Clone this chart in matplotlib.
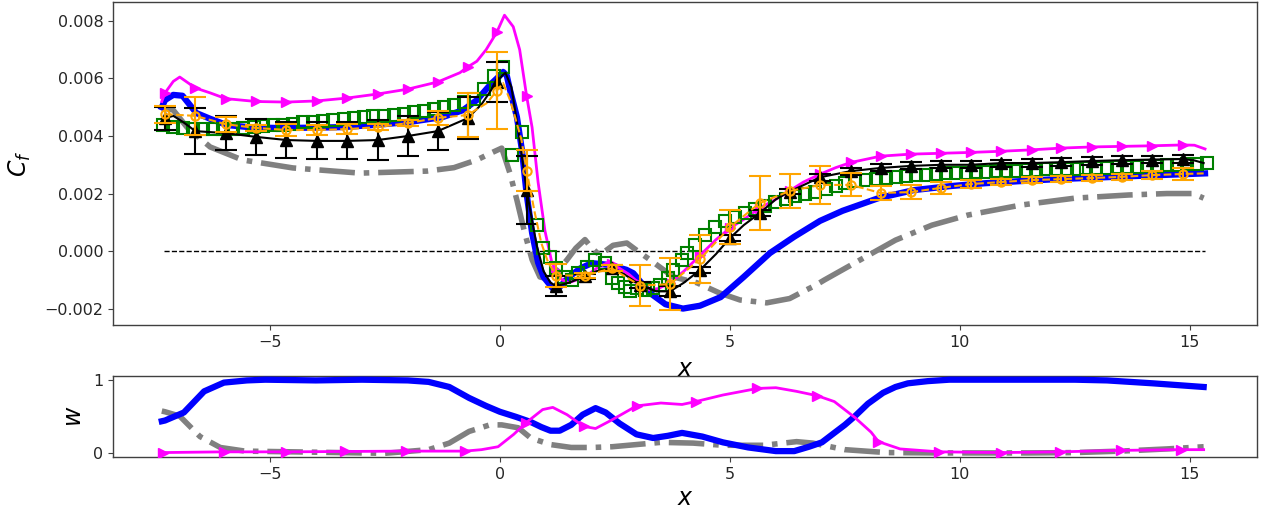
import numpy as np
import matplotlib
matplotlib.use("Agg")
import matplotlib.pyplot as plt

plt.rcParams['font.family'] = ['DejaVu Sans']
plt.rcParams['font.size'] = 11.5
plt.rcParams['axes.edgecolor'] = '0.25'
plt.rcParams['axes.linewidth'] = 1.0
plt.rcParams['xtick.color'] = '0.25'
plt.rcParams['ytick.color'] = '0.25'
plt.rcParams['xtick.labelcolor'] = '0.15'
plt.rcParams['ytick.labelcolor'] = '0.15'

# ---------------- top panel data (Cf) ----------------
grid_x = [-7.28, -6.62, -5.96, -5.30, -4.64, -3.98, -3.32, -2.66, -2.00, -1.35, -0.70, -0.07,
          0.58, 1.23, 1.85, 2.43, 3.05, 3.70, 4.35, 5.00, 5.65, 6.30, 6.97, 7.63, 8.28, 8.93,
          9.60, 10.24, 10.90, 11.57, 12.20, 12.87, 13.52, 14.17, 14.85]

blue_x = [-7.35, -7.28, -7.1, -6.9, -6.6, -6.3, -5.93, -5.4, -4.85, -4.0, -3.41, -2.6, -1.96, -1.24,
          -0.8, -0.5, -0.2, 0.0, 0.07, 0.15, 0.22, 0.3, 0.37, 0.48, 0.58, 0.7, 0.83, 0.95, 1.05, 1.15,
          1.3, 1.5, 1.75, 2.0, 2.2, 2.4, 2.6, 2.75, 2.9, 3.1, 3.3, 3.6, 3.98, 4.35, 4.8, 5.3, 5.87,
          6.4, 6.96, 7.45, 8.23, 9.0, 9.8, 10.56, 11.3, 12.1, 12.9, 13.67, 14.5, 15.0, 15.33]
blue_y = [0.0050, 0.00525, 0.00543, 0.0054, 0.0048, 0.0046, 0.00438, 0.0043, 0.00428, 0.00429,
          0.00431, 0.0044, 0.00449, 0.00466, 0.0049, 0.00525, 0.0058, 0.0061, 0.00623, 0.0061,
          0.0056, 0.0051, 0.00466, 0.0035, 0.0020, 0.00063, -0.0004, -0.0009, -0.0011, -0.0013,
          -0.00125, -0.0009, -0.0006, -0.00042, -0.00045, -0.00049, -0.00058, -0.00065, -0.00077,
          -0.00115, -0.0015, -0.00185, -0.0020, -0.0019, -0.0016, -0.0009, -0.00007, 0.0005,
          0.00105, 0.00140, 0.00184, 0.00212, 0.00226, 0.00236, 0.00243, 0.0025, 0.00255,
          0.0026, 0.00265, 0.00268, 0.0027]

magenta_x = [-7.35, -7.28, -7.1, -6.96, -6.62, -6.3, -5.96, -5.30, -4.64, -3.98, -3.32, -2.66,
             -2.00, -1.35, -0.87, -0.70, -0.5, -0.3, -0.07, 0.1, 0.29, 0.43, 0.58, 0.7, 0.83,
             0.98, 1.13, 1.23, 1.35, 1.5, 1.85, 2.1, 2.32, 2.43, 2.6, 2.8, 3.05, 3.25, 3.45, 3.70,
             4.0, 4.35, 4.7, 5.00, 5.3, 5.65, 6.0, 6.30, 6.6, 6.97, 7.3, 7.63, 8.28, 8.93, 9.60,
             10.24, 10.90, 11.57, 12.20, 12.87, 13.52, 14.17, 14.85, 15.1, 15.33]
magenta_y = [0.0052, 0.0055, 0.0059, 0.00605, 0.00567, 0.0055, 0.0053, 0.0052, 0.00518, 0.00522,
             0.00532, 0.00546, 0.00563, 0.00588, 0.0062, 0.0064, 0.0066, 0.0070, 0.0076, 0.0082,
             0.0078, 0.0070, 0.0054, 0.0043, 0.0024, 0.0007, -0.0004, -0.0007, -0.0010, -0.0011,
             -0.0009, -0.0006, -0.00042, -0.00045, -0.0006, -0.0008, -0.00115, -0.00135, -0.0013,
             -0.0011, -0.0007, -0.00015, 0.0004, 0.0008, 0.0011, 0.0015, 0.0018, 0.0021, 0.0024,
             0.00268, 0.0029, 0.00308, 0.0033, 0.00337, 0.0034, 0.00343, 0.00347, 0.00352,
             0.00358, 0.00362, 0.00364, 0.00366, 0.00369, 0.00368, 0.00355]

gray_x = [-7.35, -7.1, -6.8, -6.3, -5.6, -4.5, -3.04, -1.59, -1.0, -0.5, -0.15, 0.04, 0.22, 0.37,
          0.54, 0.7, 0.87, 1.0, 1.2, 1.46, 1.65, 1.85, 2.0, 2.17, 2.46, 2.76, 2.97, 3.26, 3.48,
          3.77, 4.28, 4.78, 5.22, 5.8, 6.3, 6.6, 6.85, 7.06, 7.84, 8.6, 9.39, 10.17, 11.33, 12.5,
          13.67, 14.5, 15.07, 15.3]
gray_y = [0.0050, 0.0049, 0.0043, 0.00362, 0.00317, 0.00289, 0.00271, 0.00278, 0.0029, 0.00317,
          0.00344, 0.00358, 0.0027, 0.00177, 0.00063, -0.0003, -0.0009, -0.00095, -0.0008,
          -0.0003, 0.0001, 0.0004, 0.0001, -0.00014, 0.0002, 0.00028, 0.00003, -0.0003, -0.00056,
          -0.0009, -0.0011, -0.00146, -0.0017, -0.0018, -0.00165, -0.0014, -0.0012, -0.0010,
          -0.0003, 0.00038, 0.0009, 0.00125, 0.0016, 0.00184, 0.00195, 0.0020, 0.0020, 0.00184]

green_x = [-7.33, -7.11, -6.89, -6.67, -6.46, -6.24, -6.02, -5.80, -5.58, -5.35, -5.15, -4.93,
           -4.71, -4.49, -4.27, -4.06, -3.84, -3.62, -3.40, -3.18, -2.96, -2.75, -2.53, -2.31,
           -2.09, -1.87, -1.65, -1.44, -1.22, -1.00, -0.78, -0.56, -0.34, -0.12, 0.07, 0.26,
           0.47, 0.80, 0.94, 1.09, 1.23, 1.40, 1.56, 1.70, 1.89, 2.07, 2.28, 2.43, 2.57, 2.72,
           2.83, 2.97, 3.15, 3.33, 3.48, 3.65, 3.77, 3.95, 4.06, 4.24, 4.46, 4.68, 4.90, 5.11,
           5.33, 5.55, 5.77, 5.99, 6.21, 6.42, 6.64, 6.86, 7.08, 7.30, 7.51, 7.73, 7.95, 8.17,
           8.39, 8.61, 8.82, 9.04, 9.26, 9.48, 9.70, 9.92, 10.13, 10.35, 10.57, 10.79, 11.01,
           11.23, 11.44, 11.66, 11.88, 12.10, 12.32, 12.54, 12.75, 12.97, 13.19, 13.41, 13.63,
           13.85, 14.06, 14.28, 14.50, 14.72, 14.94, 15.16, 15.37]
green_y = [0.00438, 0.00432, 0.00428, 0.00426, 0.00425, 0.00425, 0.00425, 0.00426, 0.00428,
           0.00431, 0.00434, 0.00437, 0.0044, 0.00443, 0.00447, 0.0045, 0.00453, 0.00456,
           0.00459, 0.00462, 0.00465, 0.00468, 0.00471, 0.00474, 0.00478, 0.00482, 0.00487,
           0.00493, 0.0050, 0.00508, 0.00518, 0.0053, 0.00565, 0.0061, 0.0064, 0.00334, 0.00415,
           0.0009, 0.0001, -0.0002, -0.0006, -0.0009, -0.0010, -0.00077, -0.00056, -0.0003,
           -0.00042, -0.00094, -0.0011, -0.00125, -0.0014, -0.0013, -0.00136, -0.0013, -0.00118,
           -0.00094, -0.00066, -0.0003, -0.00007, 0.0002, 0.00055, 0.00085, 0.00105, 0.0012,
           0.00134, 0.00146, 0.00158, 0.0017, 0.00182, 0.00192, 0.0020, 0.00207, 0.00216,
           0.00226, 0.00236, 0.00242, 0.00247, 0.00251, 0.00255, 0.00258, 0.00261, 0.00264,
           0.00266, 0.00268, 0.0027, 0.00272, 0.00273, 0.00274, 0.00275, 0.00277, 0.00278,
           0.0028, 0.00281, 0.00282, 0.00284, 0.00285, 0.00286, 0.00287, 0.00288, 0.00289,
           0.0029, 0.00291, 0.00292, 0.00293, 0.00295, 0.00296, 0.00298, 0.0030, 0.00302,
           0.00304, 0.00306]

black_x = [-7.35, -7.28, -7.1, -6.9, -6.62, -5.96, -5.30, -4.64, -3.98, -3.32, -2.66, -2.00, -1.35,
           -0.70, -0.4, -0.07, 0.05, 0.12, 0.25, 0.4, 0.58, 0.8, 0.95, 1.1, 1.23, 1.5, 1.85, 2.1,
           2.43, 2.7, 3.05, 3.4, 3.70, 4.0, 4.35, 4.7, 5.00, 5.3, 5.65, 6.0, 6.30, 6.97, 7.63,
           8.28, 8.93, 9.60, 10.24, 10.90, 11.57, 12.20, 12.87, 13.52, 14.17, 14.85, 15.1, 15.3]
black_y = [0.0046, 0.00462, 0.0047, 0.0045, 0.00417, 0.0041, 0.00397, 0.00386, 0.00383, 0.00383,
           0.00386, 0.0040, 0.00417, 0.00462, 0.0051, 0.00588, 0.0061, 0.0062, 0.0057, 0.0042,
           0.00212, 0.0002, -0.0007, -0.0011, -0.00122, -0.0011, -0.00088, -0.0007, -0.0006,
           -0.0008, -0.00118, -0.0014, -0.0014, -0.0011, -0.00066, -0.0001, 0.00045, 0.0009,
           0.00132, 0.0018, 0.00207, 0.00257, 0.00278, 0.00289, 0.00296, 0.0030, 0.0030,
           0.00306, 0.00306, 0.00309, 0.00313, 0.00316, 0.00318, 0.0032, 0.00315, 0.00306]
black_err = [0.0004, 0.0008, 0.0006, 0.00062, 0.00062, 0.00064, 0.00064, 0.0007, 0.0007, 0.00065,
             0.00073, 0.00071, 0.00117, 0.00035, 0.0001, 0.0001, 0.0001, 0.00017, 0.0001, 0.0001,
             0.0001, 0.0001, 0.00012, 0.00012, 0.00012, 0.00012, 0.00012, 0.00012, 0.00012,
             0.00013, 0.00013, 0.00013, 0.00013, 0.00013, 0.00013]

orange_x = [-7.28, -6.62, -5.96, -5.30, -4.64, -3.98, -3.32, -2.66, -2.00, -1.35, -0.70, -0.28,
            -0.07, 0.07, 0.22, 0.33, 0.47, 0.58, 0.76, 0.9, 1.05, 1.23, 1.85, 2.43, 3.05, 3.70,
            4.35, 5.00, 5.65, 6.30, 6.97, 7.63, 8.28, 8.93, 9.60, 10.24, 10.90, 11.57, 12.20,
            12.87, 13.52, 14.17, 14.85, 15.3]
orange_y = [0.00476, 0.0047, 0.00441, 0.00428, 0.00421, 0.00421, 0.00424, 0.00431, 0.00445,
            0.00463, 0.00473, 0.00515, 0.00557, 0.00584, 0.00525, 0.00466, 0.00386, 0.0028,
            0.00132, 0.00028, -0.0004, -0.00085, -0.00085, -0.0006, -0.0012, -0.00115, -0.00028,
            0.00083, 0.00167, 0.00209, 0.0023, 0.0023, 0.00202, 0.00205, 0.0022, 0.00233,
            0.0024, 0.00247, 0.0025, 0.00254, 0.00258, 0.00264, 0.00268, 0.0027]
orange_err = [0.0003, 0.00066, 0.00026, 0.0001, 0.0002, 0.00017, 0.00017, 0.0001, 0.0001, 0.00023,
              0.00075, 0.00134, 0.0007, 0.0004, 0.0001, 0.0001, 0.0007, 0.0009, 0.00084, 0.0006,
              0.00093, 0.0006, 0.00066, 0.0004, 0.00023, 0.00023, 0.0002, 0.00015, 0.0001,
              0.0001, 0.0001, 0.0001, 0.0001, 0.00015, 0.0002]

zero_x = [-7.3, 15.33]
zero_y = [0.0, 0.0]

# ---------------- bottom panel data (w) ----------------
wb_x = [-7.35, -7.28, -6.87, -6.43, -6.0, -5.5, -5.1, -4.0, -3.0, -2.0, -1.55, -1.1, -0.67, -0.3,
        0.0, 0.35, 0.67, 0.9, 1.1, 1.3, 1.55, 1.8, 2.08, 2.3, 2.6, 2.97, 3.33, 3.65, 3.96, 4.4,
        4.85, 5.4, 6.0, 6.4, 6.72, 7.0, 7.27, 7.5, 7.72, 8.0, 8.33, 8.6, 8.87, 9.3, 9.77, 10.5,
        11.5, 12.5, 13.2, 14.2, 15.3]
wb_y = [0.43, 0.44, 0.55, 0.84, 0.96, 0.99, 1.0, 0.99, 1.0, 0.99, 0.97, 0.9, 0.75, 0.64, 0.56,
        0.49, 0.42, 0.35, 0.3, 0.3, 0.38, 0.52, 0.61, 0.55, 0.4, 0.25, 0.2, 0.23, 0.27, 0.22,
        0.14, 0.07, 0.02, 0.02, 0.08, 0.14, 0.27, 0.38, 0.5, 0.67, 0.82, 0.9, 0.95, 0.98, 1.0,
        1.0, 1.0, 1.0, 0.99, 0.95, 0.9]

wm_x = [-7.33, -6.0, -4.65, -3.37, -2.04, -0.76, -0.4, -0.04, 0.3, 0.57, 0.93, 1.15, 1.46, 1.82,
        2.08, 2.44, 2.97, 3.5, 3.96, 4.26, 4.85, 5.6, 6.0, 6.45, 6.9, 7.27, 7.72, 8.07, 8.23,
        8.7, 9.55, 10.9, 12.17, 13.5, 14.8, 15.3]
wm_y = [0.0, 0.01, 0.01, 0.015, 0.02, 0.02, 0.04, 0.08, 0.25, 0.41, 0.59, 0.62, 0.52, 0.36,
        0.33, 0.45, 0.64, 0.68, 0.66, 0.7, 0.79, 0.88, 0.89, 0.84, 0.78, 0.7, 0.48, 0.28, 0.15,
        0.05, 0.01, 0.0, 0.01, 0.03, 0.04, 0.04]
wm_marks = [-7.33, -6.0, -4.65, -3.37, -2.04, -0.76, 0.57, 1.82, 2.97, 4.26, 5.6, 6.9, 8.23,
            9.55, 10.9, 12.17, 13.5, 14.8]

wg_x = [-7.35, -7.28, -6.96, -6.52, -6.08, -5.54, -4.5, -3.5, -2.5, -1.55, -1.1, -0.67, -0.22,
        0.04, 0.4, 0.67, 1.1, 1.55, 2.0, 2.44, 2.97, 3.5, 4.2, 4.85, 5.74, 6.45, 6.8, 7.5, 8.4,
        9.5, 10.5, 11.5, 12.5, 13.5, 14.5, 15.3]
wg_y = [0.57, 0.56, 0.5, 0.22, 0.07, 0.02, 0.01, 0.0, -0.01, 0.04, 0.13, 0.29, 0.38, 0.38, 0.34,
        0.2, 0.11, 0.07, 0.07, 0.08, 0.11, 0.14, 0.13, 0.1, 0.1, 0.15, 0.13, 0.04, 0.0, -0.005,
        -0.005, -0.005, 0.0, 0.02, 0.05, 0.08]

# ---------------- figure ----------------
fig = plt.figure(figsize=(12.66, 5.19), dpi=100)
ax = fig.add_axes([0.0893, 0.3738, 0.9036, 0.6224])
ax2 = fig.add_axes([0.0893, 0.1195, 0.9036, 0.1560])


def marks(xs, ref):
    xs = np.asarray(xs)
    return list(np.nonzero(np.isin(xs, ref))[0])


ax.plot(zero_x, zero_y, 'k--', lw=1.0, zorder=1)
ax.plot(gray_x, gray_y, color='gray', lw=4, ls='-.', zorder=2)
ax.plot(blue_x, blue_y, color='blue', lw=4.5, zorder=3)
ax.plot(magenta_x, magenta_y, color='magenta', lw=2, marker='>', ms=7,
        markevery=marks(magenta_x, grid_x), zorder=4)
ax.plot(green_x, green_y, ls='none', marker='s', ms=8, mfc='none', mec='green', mew=1.5, zorder=5)

bx = np.asarray(black_x)
bm = np.isin(bx, grid_x)
ax.errorbar(bx[bm], np.asarray(black_y)[bm], yerr=black_err, fmt='none', ecolor='black',
            elinewidth=1.5, capsize=8, capthick=1.5, zorder=6)
ax.plot(black_x, black_y, color='black', lw=1.5, marker='^', ms=8,
        markevery=marks(black_x, grid_x), zorder=6)

ox = np.asarray(orange_x)
om = np.isin(ox, grid_x)
ax.errorbar(ox[om], np.asarray(orange_y)[om], yerr=orange_err, fmt='none', ecolor='orange',
            elinewidth=1.5, capsize=8, capthick=1.5, zorder=7)
ax.plot(orange_x, orange_y, color='orange', lw=1.5, ls='--', marker='o', ms=6, mfc='none',
        mec='orange', mew=1.5, markevery=marks(orange_x, grid_x), zorder=7)

ax.set_yticks([-0.002, 0.0, 0.002, 0.004, 0.006, 0.008])
ax.set_ylabel('$C_f$', fontsize=17, labelpad=8)
ax.set_xlabel('$x$', fontsize=17, labelpad=5)
ax.set_ylim(-0.00257, 0.00866)

ax2.plot(wg_x, wg_y, color='gray', lw=4, ls='-.', zorder=2)
ax2.plot(wb_x, wb_y, color='blue', lw=4.5, zorder=3)
ax2.plot(wm_x, wm_y, color='magenta', lw=2, marker='>', ms=7,
         markevery=marks(wm_x, wm_marks), zorder=4)
ax2.set_yticks([0, 1])
ax2.set_ylabel('$w$', fontsize=17, labelpad=5)
ax2.set_xlabel('$x$', fontsize=17, labelpad=3)

for a in (ax, ax2):
    a.set_xlim(-8.41, 16.46)
    a.set_xticks([-5, 0, 5, 10, 15])

fig.savefig('out.png', dpi=100)
